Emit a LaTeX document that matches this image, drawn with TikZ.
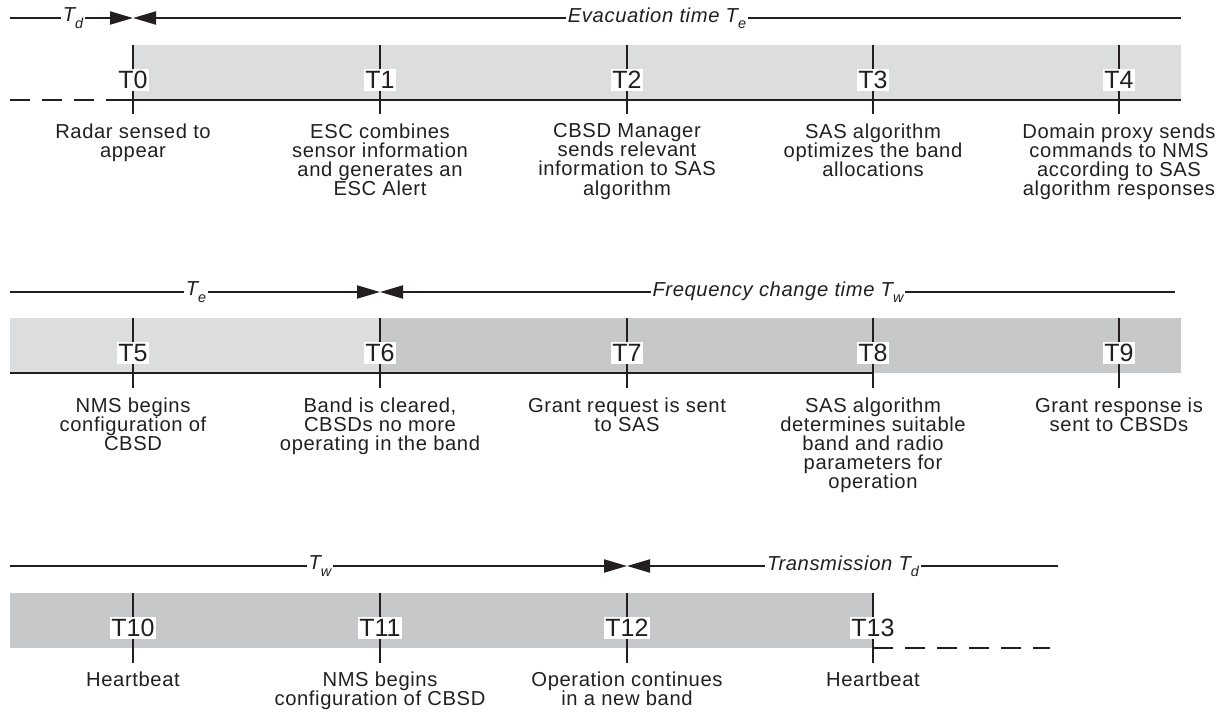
\documentclass[tikz,border=0pt]{standalone}
\usepackage{fontspec}
\setmainfont{Liberation Sans}
\newfontfamily\descfont[LetterSpace=3]{Liberation Sans}
\usetikzlibrary{arrows.meta}
\definecolor{BandLight}{RGB}{220,221,223}
\definecolor{BandDark}{RGB}{199,200,202}
\definecolor{LineColor}{RGB}{35,31,32}
\newcommand{\lowsub}[1]{\raisebox{-0.6ex}{\fontsize{7.2}{7.2}\selectfont #1}}

\begin{document}
\begin{tikzpicture}[
    x=0.5pt, y=-0.5pt,
    >={Triangle[length=11.5pt, width=6.5pt]},
    timeline/.style={draw=LineColor, line width=1pt},
    dashline/.style={draw=LineColor, line width=1pt, dash pattern=on 10pt off 6pt},
    tick/.style={draw=LineColor, line width=1.1pt},
    tlabel/.style={fill=white, inner xsep=0.6pt, inner ysep=1pt, text=LineColor, font=\fontsize{12.5}{13}\selectfont},
    desc/.style={anchor=north, align=center, inner sep=0pt, text=LineColor, font=\descfont\fontsize{10.1}{9.6}\selectfont},
    span/.style={fill=white, inner sep=0.8pt, text=LineColor, font=\descfont\itshape\fontsize{10.1}{9.6}\selectfont},
]
\useasboundingbox (0,0) rectangle (1227,712);

% Row 1: evacuation
\fill[BandLight] (133,45) rectangle (1181,100);
\draw[dashline] (10,100) -- (122,100);
\draw[timeline] (120,100) -- (1181,100);
\foreach \x in {133, 380, 627, 873, 1119} {
    \draw[tick] (\x,45) -- (\x,114);
}
\node[tlabel] (t0) at (133,80) {T0};
\node[tlabel] (t1) at (380,80) {T1};
\node[tlabel] (t2) at (627,80) {T2};
\node[tlabel] (t3) at (873,80) {T3};
\node[tlabel] (t4) at (1119,80) {T4};

\coordinate (r1a) at (10,18);
\coordinate (r1m) at (133,18);
\coordinate (r1b) at (1181,18);
\draw[timeline, ->] (r1a) -- (r1m);
\draw[timeline, ->] (r1b) -- (r1m);
\node[span] (td1) at (73,18) {T\lowsub{d}};
\node[span] (te1) at (657,18) {Evacuation time T\lowsub{e}};

\node[desc] (d0) at (133,123) {Radar sensed to\\appear};
\node[desc] (d1) at (380,123) {ESC combines\\sensor information\\and generates an\\ESC Alert};
\node[desc] (d2) at (627,123) {CBSD Manager\\sends relevant\\information to SAS\\algorithm};
\node[desc] (d3) at (873,123) {SAS algorithm\\optimizes the band\\allocations};
\node[desc] (d4) at (1119,123) {Domain proxy sends\\commands to NMS\\according to SAS\\algorithm responses};

% Row 2: frequency change
\fill[BandLight] (10,318) rectangle (380,373);
\fill[BandDark] (380,318) rectangle (1181,373);
\draw[timeline] (10,373) -- (873,373);
\foreach \x in {133, 380, 627, 873, 1119} {
    \draw[tick] (\x,318) -- (\x,388);
}
\node[tlabel] (t5) at (133,353) {T5};
\node[tlabel] (t6) at (380,353) {T6};
\node[tlabel] (t7) at (627,353) {T7};
\node[tlabel] (t8) at (873,353) {T8};
\node[tlabel] (t9) at (1119,353) {T9};

\coordinate (r2a) at (10,292);
\coordinate (r2m) at (380,292);
\coordinate (r2b) at (1175,292);
\draw[timeline, ->] (r2a) -- (r2m);
\draw[timeline, ->] (r2b) -- (r2m);
\node[span] (te2) at (196,292) {T\lowsub{e}};
\node[span] (tw2) at (778,292) {Frequency change time T\lowsub{w}};

\node[desc] (d5) at (133,397) {NMS begins\\configuration of\\CBSD};
\node[desc] (d6) at (380,397) {Band is cleared,\\CBSDs no more\\operating in the band};
\node[desc] (d7) at (627,397) {Grant request is sent\\to SAS};
\node[desc] (d8) at (873,397) {SAS algorithm\\determines suitable\\band and radio\\parameters for\\operation};
\node[desc] (d9) at (1119,397) {Grant response is\\sent to CBSDs};

% Row 3: transmission
\fill[BandDark] (10,593) rectangle (873,648);
\draw[dashline] (873,648) -- (1050,648);
\foreach \x in {133, 380, 627, 873} {
    \draw[tick] (\x,593) -- (\x,663);
}
\node[tlabel] (t10) at (133,628) {T10};
\node[tlabel] (t11) at (380,628) {T11};
\node[tlabel] (t12) at (627,628) {T12};
\node[tlabel] (t13) at (873,628) {T13};

\coordinate (r3a) at (10,566);
\coordinate (r3m) at (627,566);
\coordinate (r3b) at (1058,566);
\draw[timeline, ->] (r3a) -- (r3m);
\draw[timeline, ->] (r3b) -- (r3m);
\node[span] (tw3) at (320,566) {T\lowsub{w}};
\node[span] (td3) at (843,566) {Transmission T\lowsub{d}};

\node[desc] (d10) at (133,671) {Heartbeat};
\node[desc] (d11) at (380,671) {NMS begins\\configuration of CBSD};
\node[desc] (d12) at (627,671) {Operation continues\\in a new band};
\node[desc] (d13) at (873,671) {Heartbeat};

\end{tikzpicture}
\end{document}
